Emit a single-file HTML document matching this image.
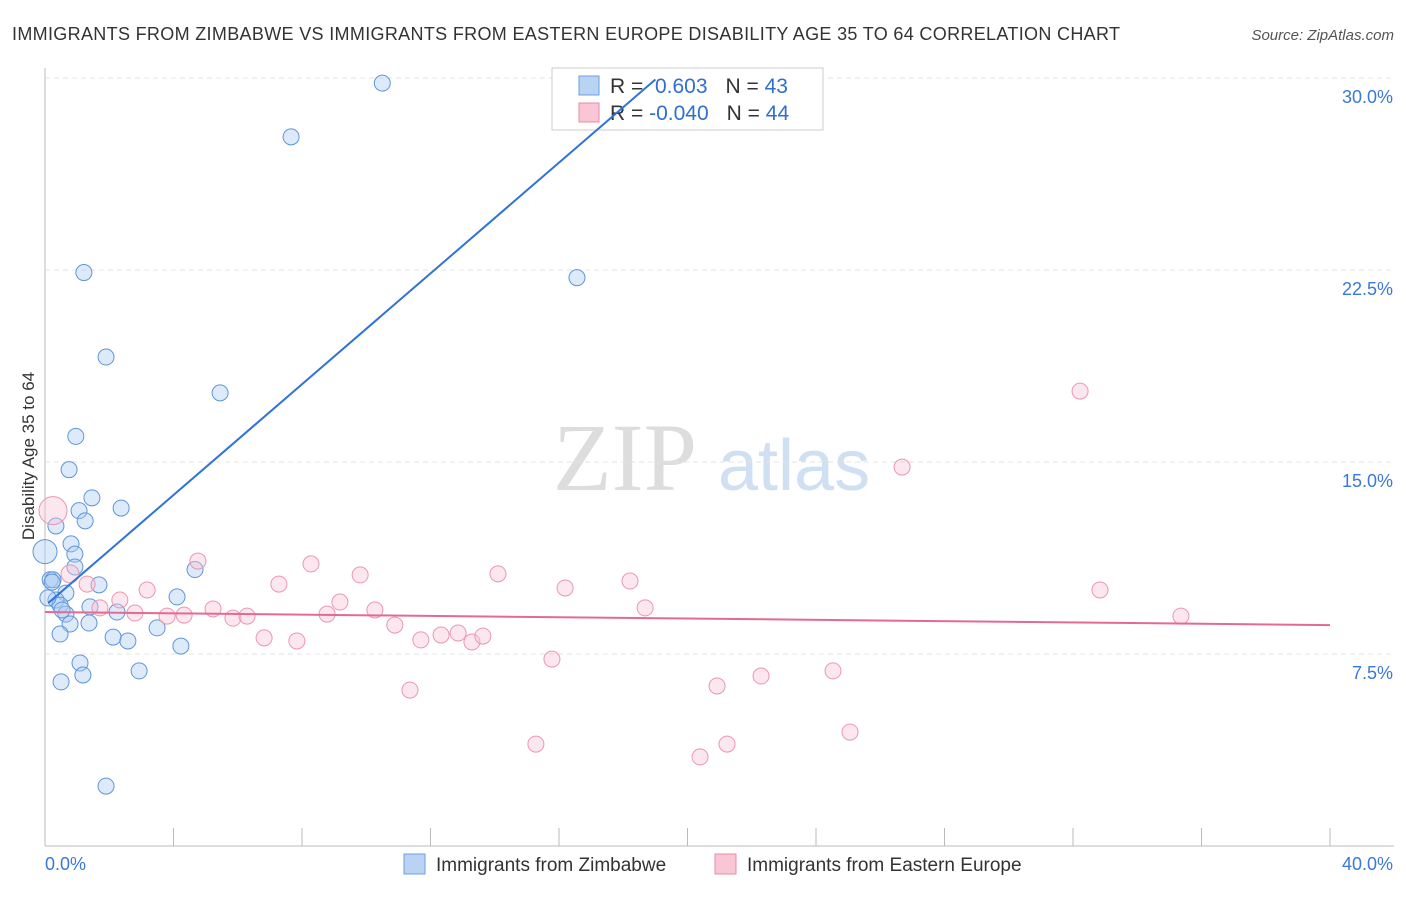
<!DOCTYPE html>
<html><head><meta charset="utf-8"><style>
body{margin:0;background:#fff;font-family:"Liberation Sans",sans-serif}
</style></head><body>
<svg id="c" width="1406" height="892" xmlns="http://www.w3.org/2000/svg" style="font-family:'Liberation Sans',sans-serif">
<text x="12" y="40" font-size="18" fill="#333" textLength="1108">IMMIGRANTS FROM ZIMBABWE VS IMMIGRANTS FROM EASTERN EUROPE DISABILITY AGE 35 TO 64 CORRELATION CHART</text>
<text x="1394" y="40" font-size="15" fill="#555" font-style="italic" text-anchor="end">Source: ZipAtlas.com</text>
<text x="34" y="456" font-size="17" fill="#333" text-anchor="middle" transform="rotate(-90 34 456)">Disability Age 35 to 64</text>
<text x="553" y="490" font-size="96" fill="#ddd" font-family="Liberation Serif">ZIP</text>
<text x="718" y="490" font-size="72" fill="#cfe0f3">atlas</text>
<g id="grid"></g>
<rect x="552" y="68" width="271" height="62" fill="#fff" stroke="#ccc"/>
<rect x="579" y="76" width="20" height="19" fill="#b9d3f3" stroke="#6a9fe0"/>
<rect x="579" y="103" width="20" height="19" fill="#f8c6d4" stroke="#e98aa6"/>
<text x="610" y="93" font-size="21" fill="#333">R = <tspan fill="#2f6fd0">&#160;0.603</tspan><tspan dx="18">N = </tspan><tspan fill="#2f6fd0">43</tspan></text>
<text x="610" y="120" font-size="21" fill="#333">R = <tspan fill="#2f6fd0">-0.040</tspan><tspan dx="18">N = </tspan><tspan fill="#2f6fd0">44</tspan></text>
<g id="marks"></g>
<rect x="404" y="854" width="21" height="20" fill="#b9d3f3" stroke="#6a9fe0"/>
<text x="436" y="871" font-size="19" fill="#333">Immigrants from Zimbabwe</text>
<rect x="715" y="854" width="21" height="20" fill="#f8c6d4" stroke="#e98aa6"/>
<text x="747" y="871" font-size="19" fill="#333">Immigrants from Eastern Europe</text>
</svg>
<script>
const yTicks=[7.5,15,22.5,30];
const yTickLabels=["7.5%","15.0%","22.5%","30.0%"];
const xTicks=[0,4,8,12,16,20,24,28,32,36,40];
const zimX=[10.5,7.66,1.21,16.56,1.90,5.45,0.96,0.75,1.46,2.37,1.06,1.25,0.34,0.81,0.93,0,0.93,4.67,0.16,0.25,1.68,0.65,4.11,0.34,0.47,1.40,2.24,0.65,0.78,1.37,3.49,0.47,2.12,2.58,4.23,1.09,1.18,2.93,0.50,1.90,0.09,0.22,0.53];
const zimY=[29.8,27.7,22.4,22.2,19.1,17.7,16.0,14.7,13.6,13.2,13.1,12.7,12.5,11.8,11.4,11.5,10.9,10.8,10.4,10.4,10.2,9.88,9.73,9.61,9.41,9.34,9.14,9.06,8.67,8.71,8.52,8.28,8.16,8.01,7.81,7.15,6.68,6.84,6.41,2.34,9.69,10.31,9.22];
const zimR=[8,8,8,8,8,8,8,8,8,8,8,8,8,8,8,12,8,8,8,8,8,8,8,8,8,8,8,8,8,8,8,8,8,8,8,8,8,8,8,8,8,8,8];
const eeX=[0.25,0.78,1.31,3.18,4.76,2.33,1.71,2.80,3.80,4.33,5.23,5.85,6.29,6.82,7.28,7.84,8.28,8.78,9.18,9.81,10.27,10.89,11.36,11.70,12.33,12.86,13.29,13.63,14.10,15.28,15.78,16.19,18.21,18.68,20.39,20.92,21.23,22.29,24.53,25.06,26.68,32.22,32.84,35.36];
const eeY=[13.1,10.63,10.23,10.0,11.13,9.61,9.3,9.1,8.98,9.02,9.26,8.9,8.98,8.13,10.23,8.01,11.02,9.06,9.53,10.59,9.22,8.63,6.09,8.05,8.24,8.32,7.97,8.2,10.63,3.98,7.3,10.08,10.35,9.3,3.48,6.25,3.98,6.64,6.84,4.45,14.8,17.77,10.0,8.98];
const eeR=[14,9,8,8,8,8,8,8,8,8,8,8,8,8,8,8,8,8,8,8,8,8,8,8,8,8,8,8,8,8,8,8,8,8,8,8,8,8,8,8,8,8,8,8];
const zimTrend=[0.1,9.49,19.0,29.94];
const eeTrend=[0,9.14,40,8.63];
const NS="http://www.w3.org/2000/svg";
const X=v=>45+v*32.125, Y=v=>846-v*25.6;
function mk(t,a,p){const e=document.createElementNS(NS,t);for(const k in a)e.setAttribute(k,a[k]);document.getElementById(p).appendChild(e);return e;}
yTicks.forEach((t,i)=>{
 let l=mk('line',{x1:45,x2:1394,y1:Y(t),y2:Y(t),stroke:'#e3e3e3','stroke-dasharray':'5,4'},'grid');
 
 
 let tx=mk('text',{x:1393,y:Y(t)+25,'font-size':18,fill:'#3b78d8','text-anchor':'end'},'grid');
 tx.textContent=yTickLabels[i];
 
 
});
let ax=mk('line',{x1:45,x2:45,y1:68,y2:846,stroke:'#bbb'},'grid');


let bx=mk('line',{x1:45,x2:1394,y1:846,y2:846,stroke:'#bbb'},'grid');


xTicks.forEach(t=>{
 let l=mk('line',{x1:X(t),x2:X(t),y1:828,y2:846,stroke:'#bbb'},'grid');
 
 
});
[["0.0%",45,'start'],["40.0%",1393,'end']].forEach(d=>{
 let t=mk('text',{x:d[1],y:870,'font-size':18,fill:'#3b78d8','text-anchor':d[2]},'grid');t.textContent=d[0];
 
 
});
zimX.forEach((v,i)=>{
 let c=mk('circle',{cx:X(v),cy:Y(zimY[i]),r:zimR[i],fill:'rgba(170,202,242,0.4)',stroke:'#5f95dc','stroke-width':1},'marks');
 
 
});
eeX.forEach((v,i)=>{
 let c=mk('circle',{cx:X(v),cy:Y(eeY[i]),r:eeR[i],fill:'rgba(248,196,212,0.4)',stroke:'#eb97b0','stroke-width':1},'marks');
 
 
});
let t1=mk('line',{x1:X(zimTrend[0]),y1:Y(zimTrend[1]),x2:X(zimTrend[2]),y2:Y(zimTrend[3]),stroke:'#2f74d6','stroke-width':2},'marks');


let t2=mk('line',{x1:X(eeTrend[0]),y1:Y(eeTrend[1]),x2:X(eeTrend[2]),y2:Y(eeTrend[3]),stroke:'#e56a93','stroke-width':2},'marks');


</script>
</body></html>
